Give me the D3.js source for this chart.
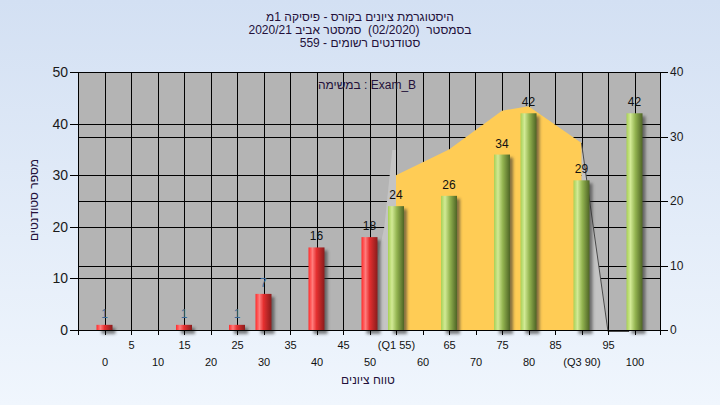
<!DOCTYPE html>
<html><head><meta charset="utf-8">
<script src="https://cdn.jsdelivr.net/npm/d3@7"></script>
<style>
html,body{margin:0;padding:0;overflow:hidden;}
svg{display:block;}
text{font-family:"Liberation Sans","DejaVu Sans",Arial,sans-serif;white-space:pre;}
</style></head>
<body>
<script>
// ---- data ----
const titleLines = ["היסטוגרמת ציונים בקורס - פיסיקה 1מ", "בסמסטר  (02/2020)  סמסטר אביב 2020/21", "סטודנטים רשומים - 559"];
const subtitle = "במשימה : Exam_B";
const yTitle = "מספר סטודנטים";
const xTitle = "טווח ציונים";
const scores = [0,5,10,15,20,25,30,35,40,45,50,55,60,65,70,75,80,85,90,95,100];
const counts = [1,0,0,1,0,1,7,0,16,0,18,24,0,26,0,34,42,0,29,0,42];
const xLabels = ["0","5","10","15","20","25","30","35","40","45","50","(Q1 55)","60","65","70","75","80","85","(Q3 90)","95","100"];
const passMark = 55;
const leftTicks = [0,10,20,30,40,50];
const rightTicks = [0,10,20,30,40];
// quartile range area (right axis units)
const areaScores = [55,65,75,80,90];
const areaValues = [24,28,34,34.7,29];
// faint light slivers at the edges of the area (right axis units)
const leftSliverScores = [50.4,51.5,52.8,54.3,55,55];
const leftSliverValues = [0,10.9,16,27.9,27.9,0];
const rightSliverScores = [90,95,90];
const rightSliverValues = [29,0,0];

// ---- layout ----
const W=720,H=405;
const L=78,R=660,T=72,B=330;
const svg=d3.select("body").append("svg").attr("width",W).attr("height",H);
const defs=svg.append("defs");
const bg=defs.append("linearGradient").attr("id","bg").attr("x1",0).attr("y1",0).attr("x2",0).attr("y2",1);
bg.append("stop").attr("offset","0%").attr("stop-color","#d3e0f3");
bg.append("stop").attr("offset","100%").attr("stop-color","#f0f6fd");
function cyl(id,stops){const g=defs.append("linearGradient").attr("id",id).attr("x1",0).attr("y1",0).attr("x2",1).attr("y2",0);
 stops.forEach(s=>g.append("stop").attr("offset",s[0]).attr("stop-color",s[1]));}
cyl("red",[["0%","#ff2b2b"],["25%","#ff7c7c"],["50%","#e53030"],["100%","#8a1c1c"]]);
cyl("green",[["0%","#a8d055"],["25%","#d2ea95"],["55%","#93b450"],["100%","#4e6425"]]);
const f=defs.append("filter").attr("id","blur").attr("x","-50%").attr("y","-50%").attr("width","200%").attr("height","200%");
f.append("feGaussianBlur").attr("stdDeviation",1.8);

svg.append("rect").attr("width",W).attr("height",H).attr("fill","url(#bg)");

const x=d3.scaleLinear().domain([-5,105]).range([L,R+1]);
const yL=d3.scaleLinear().domain([0,50]).range([B,T]);
const yR=d3.scaleLinear().domain([0,40]).range([B,T]);

// plot background
svg.append("rect").attr("x",L).attr("y",T).attr("width",R-L).attr("height",B-T).attr("fill","#b4b4b4");

// grid
const grid=svg.append("g").attr("stroke","#000").attr("stroke-width",1).attr("shape-rendering","crispEdges");
scores.forEach(s=>grid.append("line").attr("x1",Math.round(x(s))+0.5).attr("x2",Math.round(x(s))+0.5).attr("y1",T).attr("y2",B));
leftTicks.slice(1,-1).forEach(v=>grid.append("line").attr("x1",L).attr("x2",R).attr("y1",Math.round(yL(v))+0.5).attr("y2",Math.round(yL(v))+0.5));
rightTicks.slice(1,-1).forEach(v=>grid.append("line").attr("x1",L).attr("x2",R).attr("y1",Math.round(yR(v))+0.5).attr("y2",Math.round(yR(v))+0.5));

// light slivers
const sliver=(ss,vs)=>d3.line()(ss.map((s,i)=>[x(s),yR(vs[i])]))+"Z";
svg.append("path").attr("d",sliver(leftSliverScores,leftSliverValues)).attr("fill","#c4c4c4");
svg.append("path").attr("d",sliver(rightSliverScores,rightSliverValues)).attr("fill","#c4c4c4");
// yellow area
const areaGen=d3.area().x(d=>x(d[0])).y0(B).y1(d=>yR(d[1]));
svg.append("path").attr("d",areaGen(areaScores.map((s,i)=>[s,areaValues[i]]))).attr("fill","#ffcc55");
// outline on right edge
svg.append("path").attr("d",d3.line()([[x(90),yR(29)],[x(95),B+1.5],[x(99),B+1.5]])).attr("fill","none").attr("stroke","#4a4a4a").attr("stroke-width",1);

// bars
const bw=16;
const data=scores.map((s,i)=>({s,c:counts[i]})).filter(d=>d.c>0);
const bars=svg.append("g");
bars.selectAll(".sh").data(data).join("rect")
 .attr("x",d=>x(d.s)-bw/2+5).attr("y",d=>yL(d.c)+3).attr("width",bw-2).attr("height",d=>B-yL(d.c)+1)
 .attr("fill","#333").attr("opacity",0.6).attr("filter","url(#blur)");
bars.selectAll(".b").data(data).join("rect")
 .attr("x",d=>x(d.s)-bw/2).attr("y",d=>yL(d.c)).attr("width",bw).attr("height",d=>B-yL(d.c))
 .attr("fill",d=>d.s<passMark?"url(#red)":"url(#green)");
svg.append("g").selectAll("text").data(data).join("text")
 .attr("x",d=>x(d.s)).attr("y",d=>yL(d.c)-7).attr("text-anchor","middle")
 .attr("font-size",12).attr("fill",d=>d.c<10?"#3a6a9a":"#111").text(d=>d.c);

// axes lines
const ax=svg.append("g").attr("stroke","#000").attr("shape-rendering","crispEdges");
ax.append("line").attr("x1",L+0.5).attr("x2",L+0.5).attr("y1",T).attr("y2",B+5);
ax.append("line").attr("x1",R+0.5).attr("x2",R+0.5).attr("y1",T).attr("y2",B+5);
ax.append("line").attr("x1",L).attr("x2",R).attr("y1",T+0.5).attr("y2",T+0.5);
ax.append("line").attr("x1",L-8).attr("x2",R+8).attr("y1",B+0.5).attr("y2",B+0.5);

// left axis
const la=svg.append("g").attr("transform",`translate(${L},0)`).call(d3.axisLeft(yL).tickValues(leftTicks).tickSize(8).tickPadding(2));
la.select(".domain").remove();
la.selectAll("text").attr("font-size",14).attr("fill","#1a1a1a").attr("font-family","Liberation Sans, Arial");
la.selectAll("line").attr("shape-rendering","crispEdges");
// right axis
const ra=svg.append("g").attr("transform",`translate(${R},0)`).call(d3.axisRight(yR).tickValues(rightTicks).tickSize(8).tickPadding(2));
ra.select(".domain").remove();
ra.selectAll("text").attr("font-size",12).attr("fill","#1a1a1a").attr("font-family","Liberation Sans, Arial");
ra.selectAll("line").attr("shape-rendering","crispEdges");
// bottom axis
const ba=svg.append("g").attr("transform",`translate(0,${B})`).call(d3.axisBottom(x).tickValues(scores).tickSize(5).tickFormat((d,i)=>xLabels[i]));
ba.select(".domain").remove();
ba.selectAll("line").attr("shape-rendering","crispEdges");
ba.selectAll("text").attr("font-size",11).attr("fill","#111").attr("font-family","Liberation Sans, Arial")
 .attr("dy",null).attr("y",(d,i)=>i%2===1?19:36);

// titles
const tg=svg.append("g").attr("font-size",12).attr("fill","#23103a").attr("text-anchor","middle");
titleLines.forEach((t,i)=>tg.append("text").attr("x",360).attr("y",21+i*13).attr("direction","rtl").attr("text-anchor","middle").text(t));
svg.append("text").attr("x",367).attr("y",89).attr("text-anchor","middle").attr("font-size",12).attr("fill","#23103a").attr("direction","ltr").text(subtitle);
svg.append("text").attr("transform","translate(38,200) rotate(-90)").attr("text-anchor","middle").attr("direction","rtl").attr("font-size",12).attr("fill","#23103a").text(yTitle);
svg.append("text").attr("x",368).attr("y",384).attr("text-anchor","middle").attr("direction","rtl").attr("font-size",12).attr("fill","#23103a").text(xTitle);
</script>
</body></html>
